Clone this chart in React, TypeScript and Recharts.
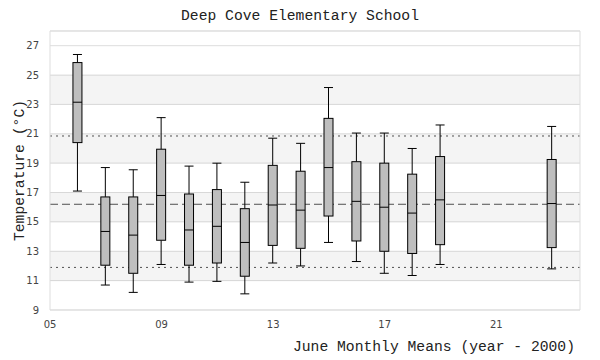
import React from "react";
import {
  ComposedChart,
  Bar,
  XAxis,
  YAxis,
  CartesianGrid,
  ReferenceArea,
  Label,
} from "recharts";

// June monthly mean temperatures, box stats per year (year - 2000)
const years = [6, 7, 8, 9, 10, 11, 12, 13, 14, 15, 16, 17, 18, 19, 23];
const lows = [17.1, 10.7, 10.2, 12.1, 10.9, 10.95, 10.1, 12.2, 12.0, 13.6, 12.3, 11.5, 11.35, 12.1, 11.8];
const q1s = [20.4, 12.05, 11.5, 13.75, 12.05, 12.2, 11.3, 13.4, 13.2, 15.4, 13.7, 13.0, 12.85, 13.45, 13.25];
const medians = [23.15, 14.35, 14.1, 16.8, 14.45, 14.7, 13.6, 16.15, 15.8, 18.7, 16.4, 16.0, 15.6, 16.5, 16.25];
const q3s = [25.85, 16.7, 16.7, 19.95, 16.9, 17.2, 15.9, 18.85, 18.45, 22.05, 19.1, 19.0, 18.25, 19.45, 19.25];
const highs = [26.4, 18.7, 18.55, 22.1, 18.8, 19.0, 17.7, 20.7, 20.35, 24.15, 21.05, 21.05, 20.0, 21.6, 21.5];

// overall mean and limits
const meanLine = 16.2;
const upperLine = 20.85;
const lowerLine = 11.9;

const bands = [
  [11, 13],
  [15, 17],
  [19, 21],
  [23, 25],
];

const xTicks = [5, 9, 13, 17, 21];
const yTicks = [9, 11, 13, 15, 17, 19, 21, 23, 25, 27];

const data = years.map((year, i) => ({
  year,
  low: lows[i],
  q1: q1s[i],
  med: medians[i],
  q3: q3s[i],
  high: highs[i],
  range: [q1s[i], q3s[i]],
}));

const mono = "Liberation Mono";
const tickStyle = { fontFamily: "DejaVu Sans", fontSize: 10, fill: "#444" };

const BoxShape = (props: any) => {
  const { x, width, payload } = props;
  if (!payload) return null;
  const top = Math.min(props.y, props.y + props.height);
  const h = Math.abs(props.height);
  const k = h / (payload.q3 - payload.q1);
  const bottom = top + h;
  const cx = x + width / 2;
  const yMed = top + (payload.q3 - payload.med) * k;
  const yHigh = top - (payload.high - payload.q3) * k;
  const yLow = bottom + (payload.q1 - payload.low) * k;
  const half = width / 2;
  return (
    <g stroke="#000" strokeWidth={1} fill="none">
      <line x1={cx} y1={yHigh} x2={cx} y2={top} />
      <line x1={cx} y1={bottom} x2={cx} y2={yLow} />
      <line x1={cx - half} y1={yHigh} x2={cx + half} y2={yHigh} />
      <line x1={cx - half} y1={yLow} x2={cx + half} y2={yLow} />
      <rect x={x} y={top} width={width} height={h} fill="#bebebe" />
      <line x1={x} y1={yMed} x2={x + width} y2={yMed} />
    </g>
  );
};

export default function App() {
  return (
    <div style={{ position: "relative", width: 584, height: 352 }}>
      <div
        style={{
          position: "absolute",
          top: 0,
          left: 0,
          width: 584,
          textAlign: "center",
          fontFamily: mono,
          fontSize: 14.7,
          lineHeight: "16px",
          color: "#222",
        }}
      >
        Deep Cove Elementary School
      </div>
      <ComposedChart
        width={584}
        height={352}
        data={data}
        margin={{ top: 23, right: 12, left: 0, bottom: 4 }}
      >
        <CartesianGrid vertical={false} stroke="#dddddd" />
        {/* limit and mean lines as grid lines so they stay under the boxes */}
        <CartesianGrid
          vertical={false}
          horizontalValues={[upperLine, lowerLine]}
          stroke="#555"
          strokeDasharray="2 4"
        />
        <CartesianGrid
          vertical={false}
          horizontalValues={[meanLine]}
          stroke="#555"
          strokeDasharray="8 4"
        />
        {bands.map(([a, b]) => (
          <ReferenceArea
            key={`band-${a}`}
            x1={5}
            x2={24}
            y1={a}
            y2={b}
            fill="#000"
            fillOpacity={0.045}
            stroke="none"
          />
        ))}
        <ReferenceArea x1={5} x2={24} y1={9} y2={28} fill="none" stroke="#dddddd" />
        <XAxis
          type="number"
          dataKey="year"
          domain={[5, 24]}
          ticks={xTicks}
          allowDataOverflow
          axisLine={false}
          tickLine={false}
          tickSize={0}
          tickMargin={11}
          height={46}
          tick={tickStyle}
          tickFormatter={(v) => String(v).padStart(2, "0")}
        >
          <Label
            value="June Monthly Means (year - 2000)"
            position="insideBottomRight"
            offset={5}
            style={{ fontFamily: mono, fontSize: 14.7, fill: "#222" }}
          />
        </XAxis>
        <YAxis
          type="number"
          domain={[9, 28]}
          ticks={yTicks}
          allowDataOverflow
          axisLine={false}
          tickLine={false}
          tickSize={0}
          tickMargin={11}
          width={42}
          tick={tickStyle}
        >
          <Label
            value="Temperature (°C)"
            position="center"
            angle={-90}
            dx={-10}
            style={{ fontFamily: mono, fontSize: 14.7, fill: "#222" }}
          />
        </YAxis>
        <Bar dataKey="range" barSize={9} shape={BoxShape} isAnimationActive={false} />
      </ComposedChart>
    </div>
  );
}
